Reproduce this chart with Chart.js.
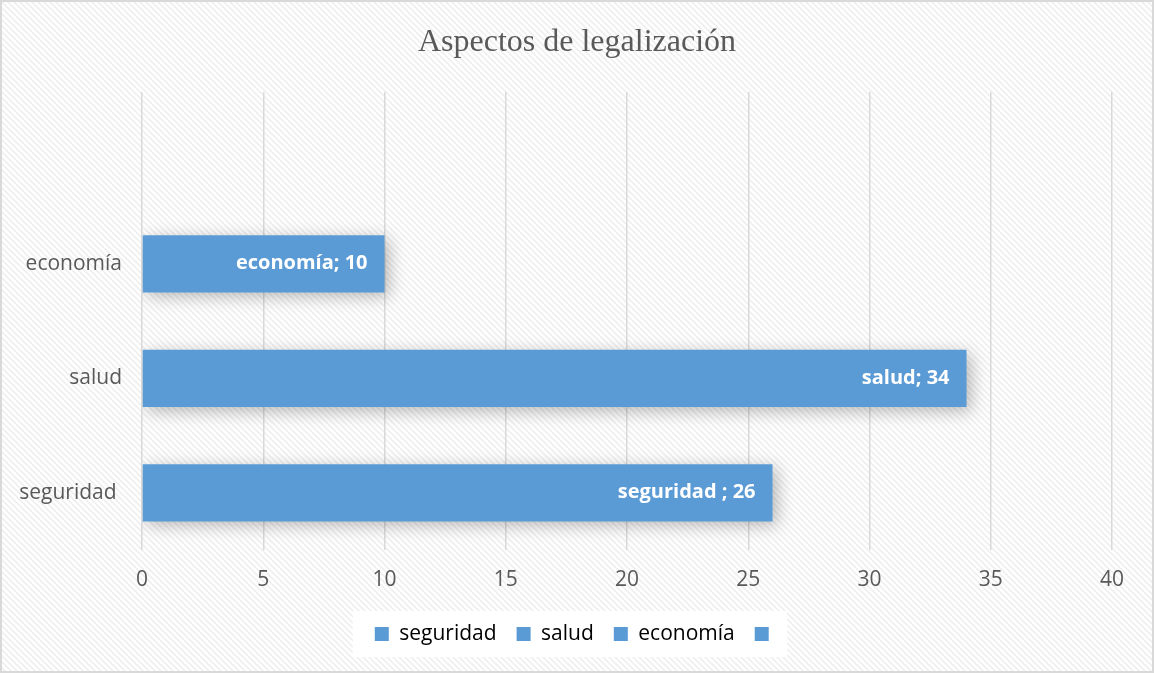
<!DOCTYPE html>
<html>
<head>
<meta charset="utf-8">
<script src="https://cdn.jsdelivr.net/npm/chart.js@4.4.0/dist/chart.umd.min.js"></script>
<style>
  html, body { margin: 0; padding: 0; background: #fff; }
  #wrap { width: 1154px; height: 673px; }
</style>
</head>
<body>
<div id="wrap"><canvas id="myChart" width="1154" height="673"></canvas></div>
<script>
// data (top category is empty, like in the original sheet)
const categories = ['', 'economía', 'salud', 'seguridad ']
const values = [null, 10, 34, 26]
const legendNames = ['seguridad', 'salud', 'economía', '']
const xMin = 0
const xMax = 40
const xStep = 5

const barColor = '#5b9bd5'
const textColor = '#595959'

// diagonal hatch used by the chart background
function makeHatch() {
    const c = document.createElement('canvas')
    c.width = 6
    c.height = 6
    const g = c.getContext('2d')
    g.fillStyle = '#ffffff'
    g.fillRect(0, 0, 6, 6)
    g.strokeStyle = '#efefef'
    g.lineWidth = 1.6
    g.beginPath()
    g.moveTo(-1, -1); g.lineTo(7, 7)
    g.moveTo(-7, -1); g.lineTo(1, 7)
    g.moveTo(5, -1); g.lineTo(13, 7)
    g.stroke()
    return g.createPattern(c, 'repeat')
}

const backgroundPlugin = {
    id: 'hatchBg',
    beforeDraw(chart) {
        const ctx = chart.ctx
        ctx.save()
        ctx.fillStyle = makeHatch()
        ctx.fillRect(0, 0, chart.width, chart.height)
        ctx.strokeStyle = '#d9d9d9'
        ctx.lineWidth = 2
        ctx.strokeRect(1, 1, chart.width - 2, chart.height - 2)
        //white box behind legend
        const boxes = chart.legend.legendHitBoxes
        if (boxes && boxes.length) {
            const l = Math.min(...boxes.map(b => b.left))
            const r = Math.max(...boxes.map(b => b.left + b.width))
            const mid = boxes[0].top + boxes[0].height / 2
            ctx.fillStyle = '#ffffff'
            ctx.fillRect(l - 22, mid - 23, r - l + 30, 46)
        }
        ctx.restore()
    }
}

// soft shadow under the bars
const shadowPlugin = {
    id: 'barShadow',
    beforeDatasetsDraw(chart) {
        const ctx = chart.ctx
        ctx.save()
        ctx.shadowColor = 'rgba(0,0,0,0.28)'
        ctx.shadowBlur = 16
        ctx.shadowOffsetX = 4
        ctx.shadowOffsetY = 4
    },
    afterDatasetsDraw(chart) {
        chart.ctx.restore()
    }
}

// "name; value" labels inside the end of each bar
const labelPlugin = {
    id: 'insideLabels',
    afterDraw(chart) {
        const ctx = chart.ctx
        const meta = chart.getDatasetMeta(0)
        ctx.save()
        ctx.font = 'bold 20px "Open Sans"'
        ctx.fillStyle = '#ffffff'
        ctx.textAlign = 'right'
        ctx.textBaseline = 'middle'
        meta.data.forEach((bar, i) => {
            if (values[i] === null) return
            ctx.fillText(categories[i] + '; ' + values[i], bar.x - 17, bar.y)
        })
        ctx.restore()
    }
}

const data = {
    labels: categories,
    datasets: [{
        label: 'Aspectos',
        data: values,
        backgroundColor: barColor,
        borderWidth: 0,
        categoryPercentage: 0.5,
        barPercentage: 1
    }]
}

const config = {
    type: 'bar',
    data,
    plugins: [backgroundPlugin, shadowPlugin, labelPlugin],
    options: {
        indexAxis: 'y',
        responsive: false,
        animation: false,
        layout: {
            padding: { left: 0, right: 0, top: 0, bottom: 18.5 }
        },
        plugins: {
            title: {
                display: true,
                text: 'Aspectos de legalización',
                color: textColor,
                font: { family: '"Liberation Serif"', size: 32, weight: 'normal' },
                padding: { top: 23, bottom: 30.6 }
            },
            legend: {
                position: 'bottom',
                labels: {
                    color: textColor,
                    font: { family: '"Open Sans"', size: 21 },
                    boxWidth: 14,
                    boxHeight: 14,
                    padding: 20,
                    generateLabels: () => legendNames.map(name => ({
                        text: name,
                        fillStyle: barColor,
                        strokeStyle: barColor,
                        lineWidth: 0,
                        hidden: false
                    }))
                },
                onClick: () => {}
            },
            tooltip: { enabled: false }
        },
        scales: {
            x: {
                min: xMin,
                max: xMax,
                ticks: {
                    stepSize: xStep,
                    color: textColor,
                    font: { family: '"Open Sans"', size: 21 },
                    padding: 17
                },
                grid: { color: '#d9d9d9', lineWidth: 1.5, drawTicks: false },
                border: { display: false },
                afterFit(scale) {
                    scale.height = 53.5
                    scale.paddingRight = 42   // gap right of the plot, keeps title centred on the page
                }
            },
            y: {
                ticks: {
                    color: textColor,
                    font: { family: '"Open Sans"', size: 21 },
                    padding: 12
                },
                grid: { display: false },
                border: { display: false },
                afterFit(scale) { scale.width = 142 }
            }
        }
    }
}

const myChart = new Chart(document.getElementById('myChart'), config)
</script>
</body>
</html>
